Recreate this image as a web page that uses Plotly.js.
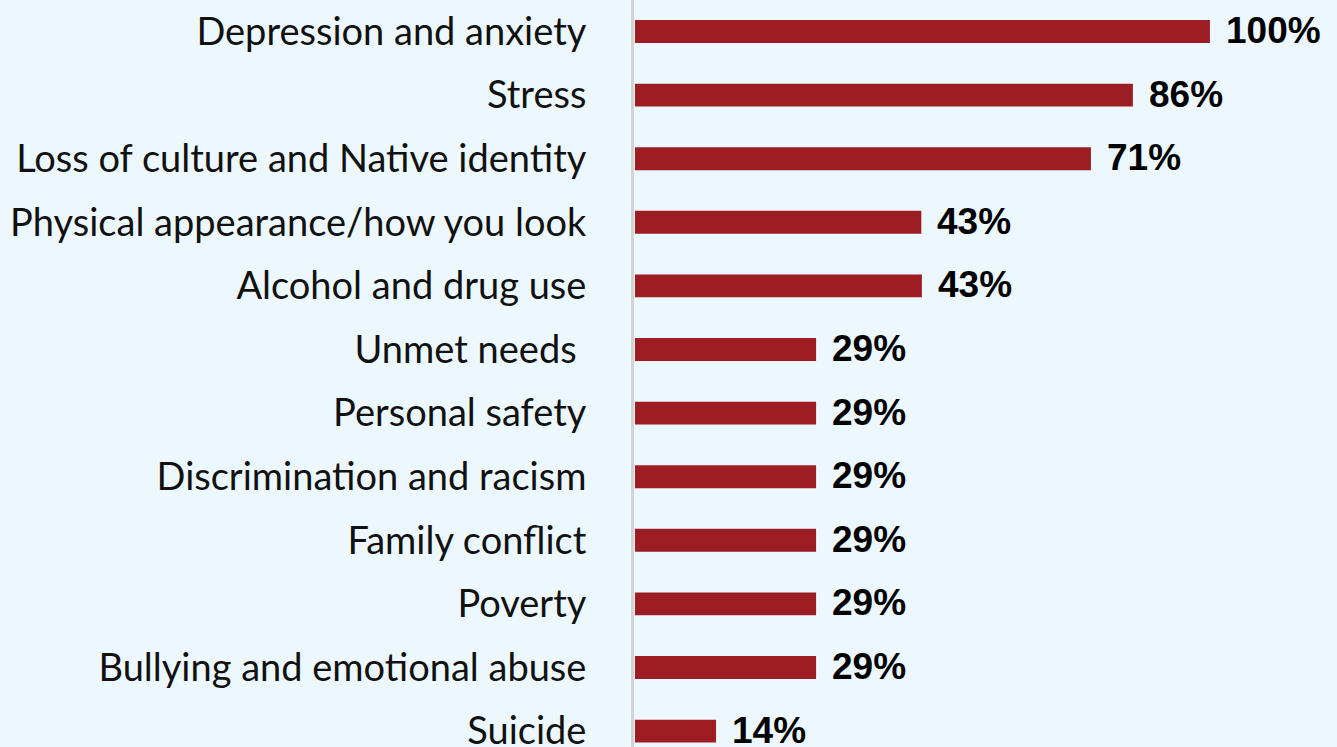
<!DOCTYPE html>
<html><head><meta charset="utf-8">
<script src="https://cdn.plot.ly/plotly-3.0.1.min.js"></script>
<style>html,body{margin:0;padding:0;background:#ECF8FE;}#chart{width:1337px;height:747px;}</style>
</head><body><div id="chart"></div>
<script>
const categories = ["Depression and anxiety","Stress","Loss of culture and Native identity","Physical appearance/how you look","Alcohol and drug use","Unmet needs ","Personal safety","Discrimination and racism","Family conflict","Poverty","Bullying and emotional abuse","Suicide"];
// bar lengths as drawn in the picture
const barValues = [100,86.6,79.3,49.8,49.9,31.5,31.5,31.5,31.5,31.5,31.5,14.1];
// printed value labels
const valueLabels = ["100%","86%","71%","43%","43%","29%","29%","29%","29%","29%","29%","14%"];

const trace = {
  type: "bar", orientation: "h",
  x: barValues, y: categories,
  marker: {color: "#9C1D23"},
  width: 0.36,
  hoverinfo: "none"
};
const annotations = categories.map((c, i) => ({
  x: barValues[i], y: c, xref: "x", yref: "y",
  text: valueLabels[i], showarrow: false, xanchor: "left", yanchor: "middle",
  xshift: 14, yshift: 1,
  font: {family: "Liberation Sans, Arial, sans-serif", size: 37, color: "#000", weight: "bold"}
}));
const layout = {
  width: 1337, height: 747,
  paper_bgcolor: "#ECF8FE", plot_bgcolor: "#ECF8FE",
  margin: {l: 634, r: 0, t: 0, b: 0},
  showlegend: false,
  bargap: 0.64,
  xaxis: {range: [-0.17, 122.1], visible: false, fixedrange: true},
  yaxis: {
    type: "category", range: [11.25, -0.495], autorange: false,
    showline: true, linecolor: "#D3D3D3", linewidth: 3,
    showgrid: false, zeroline: false, ticks: "", ticklabelstandoff: 37,
    tickfont: {family: "Lato, Calibri, sans-serif", size: 38, color: "#111"}
  },
  annotations: annotations
};
Plotly.newPlot("chart", [trace], layout, {staticPlot: true, displayModeBar: false});
</script></body></html>
